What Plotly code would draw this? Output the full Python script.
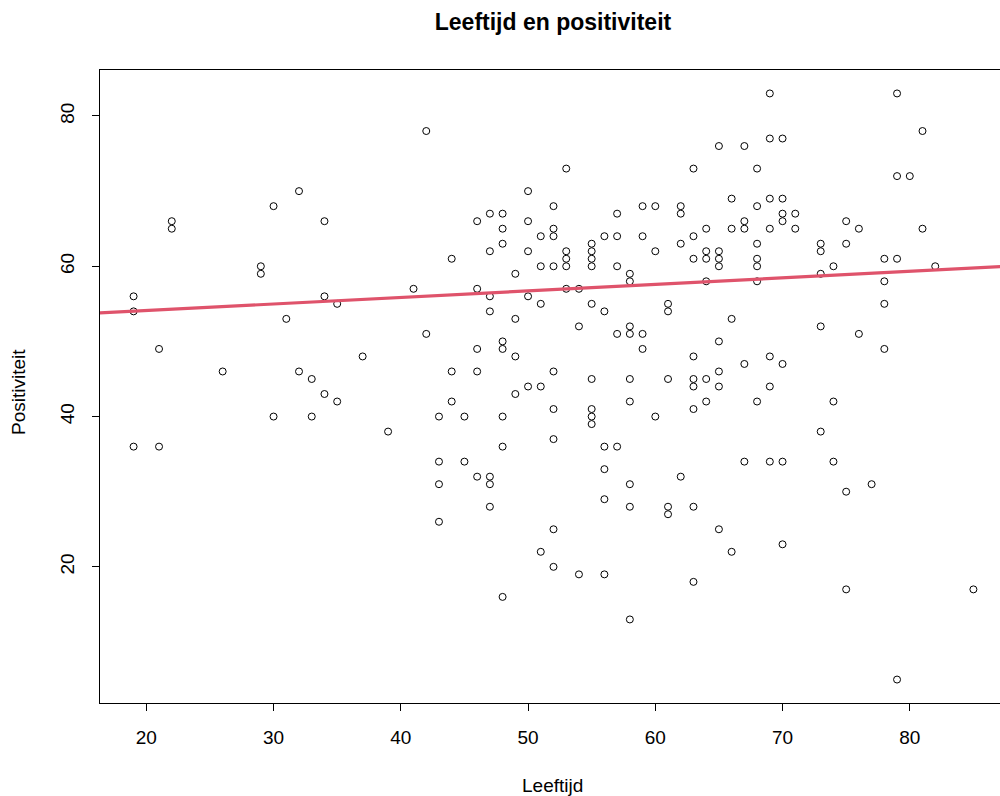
import numpy as np
import plotly.graph_objects as go

# Data: age (Leeftijd) -> positivity values (Positiviteit)
ages = [19, 21, 22, 26, 29, 30, 31, 32, 33, 34, 35, 37, 39, 41, 42, 43, 44, 45, 46, 47,
        48, 49, 50, 51, 52, 53, 54, 55, 56, 57, 58, 59, 60, 61, 62, 63, 64, 65, 66, 67,
        68, 69, 70, 71, 73, 74, 75, 76, 77, 78, 79, 80, 81, 82, 85]
values_per_age = [
    [36, 54, 56], [49, 36], [66, 65], [46], [60, 59], [68, 40], [53], [70, 46], [45, 40],
    [66, 56, 43], [55, 42], [48], [38], [57], [78, 51], [40, 34, 31, 26], [61, 46, 42],
    [40, 34], [66, 57, 49, 46, 32], [67, 62, 56, 54, 32, 31, 28],
    [67, 65, 63, 50, 49, 40, 36, 16], [59, 53, 48, 43], [70, 66, 62, 56, 44],
    [64, 60, 55, 44, 22], [68, 65, 64, 60, 46, 41, 37, 25, 20], [73, 62, 61, 60, 57],
    [57, 52, 19], [63, 62, 61, 60, 55, 45, 41, 40, 39], [64, 54, 36, 33, 29, 19],
    [67, 64, 60, 51, 36], [59, 58, 52, 51, 45, 42, 31, 28, 13], [68, 64, 51, 49],
    [68, 62, 40], [55, 54, 45, 28, 27], [68, 67, 63, 32],
    [73, 64, 61, 48, 45, 44, 41, 28, 18], [65, 62, 61, 58, 45, 42],
    [76, 62, 61, 60, 50, 46, 44, 25], [69, 65, 53, 22], [76, 66, 65, 47, 34],
    [73, 68, 63, 61, 60, 58, 42], [83, 77, 69, 65, 48, 44, 34],
    [77, 69, 67, 66, 47, 34, 23], [67, 65], [63, 62, 59, 52, 38], [60, 42, 34],
    [66, 63, 30, 17], [65, 51], [31], [61, 58, 55, 49], [83, 72, 61, 5], [72],
    [78, 65], [60], [17]]

# Reference line (abline) as drawn in the picture
line_intercept = 52.37
line_slope = 0.087

x_ticks = [20, 30, 40, 50, 60, 70, 80]
y_ticks = [20, 40, 60, 80]

leeftijd = []
positiviteit = []
for a, vals in zip(ages, values_per_age):
    for v in vals:
        leeftijd.append(a)
        positiviteit.append(v)
leeftijd = np.array(leeftijd, dtype=float)
positiviteit = np.array(positiviteit, dtype=float)

# R-style axis ranges (4% extension); right side of the R plot is cropped in the reference
xlo = leeftijd.min() - 0.04 * (leeftijd.max() - leeftijd.min())
xhi = leeftijd.max() + 0.04 * (leeftijd.max() - leeftijd.min())
xhi_vis = xlo + (xhi - xlo) * 900 / 907
ylo = positiviteit.min() - 0.04 * (positiviteit.max() - positiviteit.min())
yhi = positiviteit.max() + 0.04 * (positiviteit.max() - positiviteit.min())

line_x = np.array([xlo - 5, xhi + 5])
line_y = line_intercept + line_slope * line_x

FONT = "Liberation Sans, Arial, sans-serif"

fig = go.Figure()
fig.add_trace(go.Scatter(
    x=leeftijd, y=positiviteit, mode="markers",
    marker=dict(symbol="circle-open", size=7, color="#000000", line=dict(width=1, color="#000000")),
    hoverinfo="x+y", showlegend=False))
fig.add_trace(go.Scatter(
    x=line_x, y=line_y, mode="lines",
    line=dict(color="#DF536B", width=3.2), showlegend=False, hoverinfo="skip"))

fig.update_layout(
    width=1000, height=796,
    margin=dict(l=100, r=0, t=70, b=93),
    paper_bgcolor="white", plot_bgcolor="white",
    font=dict(family=FONT, size=19, color="#000000"),
    title=dict(text="<b>Leeftijd en positiviteit</b>", x=0.553, xref="container",
               y=1 - 22 / 796, yref="container", xanchor="center", yanchor="middle",
               font=dict(family=FONT, size=23, color="#000000")),
    xaxis=dict(range=[xlo, xhi_vis], tickmode="array", tickvals=x_ticks,
               ticks="outside", ticklen=7, tickwidth=1, tickcolor="#000000",
               showline=True, linecolor="#000000", linewidth=1, mirror=True,
               showgrid=False, zeroline=False, ticklabelstandoff=10,
               tickfont=dict(family=FONT, size=19, color="#000000")),
    yaxis=dict(range=[ylo, yhi], tickmode="array", tickvals=y_ticks,
               ticks="outside", ticklen=7, tickwidth=1, tickcolor="#000000",
               showline=True, linecolor="#000000", linewidth=1, mirror=False,
               showgrid=False, zeroline=False, tickangle=-90, ticklabelstandoff=10,
               tickfont=dict(family=FONT, size=19, color="#000000")),
    annotations=[
        dict(text="Leeftijd", xref="paper", yref="paper", x=0.503, y=-(785 - 703) / 633,
             xanchor="center", yanchor="middle", showarrow=False,
             font=dict(family=FONT, size=19, color="#000000")),
        dict(text="Positiviteit", xref="paper", yref="paper", x=-(100 - 18) / 900,
             y=(703 - 392) / 633, xanchor="center", yanchor="middle", textangle=-90,
             showarrow=False, font=dict(family=FONT, size=19, color="#000000")),
    ],
)

fig.write_html(
    "out.html",
    config={"displayModeBar": False},
    post_script="document.body.style.margin='0';document.body.style.padding='0';"
                "document.body.style.overflow='hidden';",
)
